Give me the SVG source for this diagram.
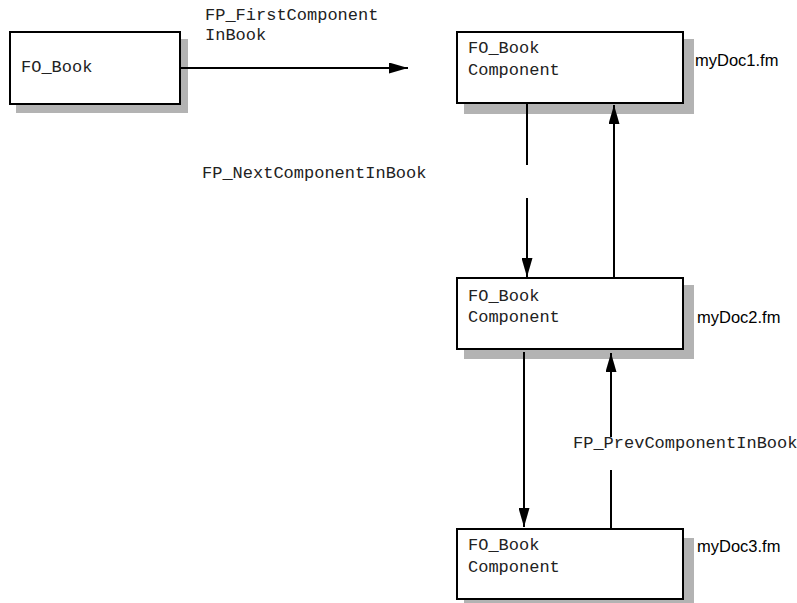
<svg xmlns="http://www.w3.org/2000/svg" width="797" height="603" viewBox="0 0 797 603">
<defs>
<style>
.box{fill:#fff;stroke:#000;stroke-width:2}
.shadow{fill:#b3b3b3;stroke:none}
.mono{font-family:"Liberation Mono","Courier New",monospace;font-size:17px;fill:#222}
.sans{font-family:"Liberation Sans",Arial,sans-serif;font-size:16.5px;fill:#000}
.conn{stroke:#000;stroke-width:2;fill:none}
</style>
<marker id="ah" viewBox="0 0 19 11" refX="19" refY="5.5" markerWidth="19" markerHeight="11" markerUnits="userSpaceOnUse" orient="auto">
<path d="M0,0 L19,5.5 L0,11 Z" fill="#000"/>
</marker>
</defs>
<rect width="797" height="603" fill="#fff"/>
<g id="book">
<rect class="shadow" x="16" y="39" width="172" height="74"/>
<rect class="box" x="10" y="32" width="170" height="72"/>
<text class="mono" x="21" y="72">FO_Book</text>
</g>
<g id="comp1">
<rect class="shadow" x="464" y="39" width="230" height="75"/>
<rect class="box" x="457" y="32" width="226" height="71"/>
<text class="mono" x="468" y="53">FO_Book</text>
<text class="mono" x="468" y="75">Component</text>
<text class="sans" x="695" y="66">myDoc1.fm</text>
</g>
<g id="comp2">
<rect class="shadow" x="464" y="285" width="230" height="74"/>
<rect class="box" x="457" y="278" width="226" height="71"/>
<text class="mono" x="468" y="301">FO_Book</text>
<text class="mono" x="468" y="322">Component</text>
<text class="sans" x="697" y="323">myDoc2.fm</text>
</g>
<g id="comp3">
<rect class="shadow" x="464" y="538" width="230" height="70"/>
<rect class="box" x="457" y="529" width="226" height="70"/>
<text class="mono" x="468" y="550">FO_Book</text>
<text class="mono" x="468" y="572">Component</text>
<text class="sans" x="697" y="552">myDoc3.fm</text>
</g>
<g id="connectors">
<line class="conn" x1="180" y1="68" x2="408" y2="68" marker-end="url(#ah)"/>
<text class="mono" x="205" y="20">FP_FirstComponent</text>
<text class="mono" x="205" y="40">InBook</text>
<line class="conn" x1="527" y1="103" x2="527" y2="165"/>
<line class="conn" x1="527" y1="198" x2="527" y2="277" marker-end="url(#ah)"/>
<text class="mono" x="202" y="178">FP_NextComponentInBook</text>
<line class="conn" x1="614" y1="278" x2="614" y2="105" marker-end="url(#ah)"/>
<line class="conn" x1="524" y1="352" x2="524" y2="527" marker-end="url(#ah)"/>
<line class="conn" x1="611" y1="528" x2="611" y2="470"/>
<line class="conn" x1="611" y1="437" x2="611" y2="353" marker-end="url(#ah)"/>
<text class="mono" x="573" y="448">FP_PrevComponentInBook</text>
</g>
</svg>
